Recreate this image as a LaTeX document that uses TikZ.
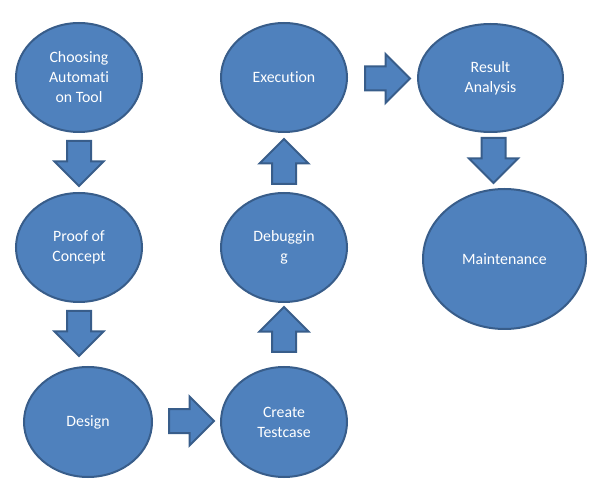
\documentclass[tikz,border=0pt]{standalone}
\usepackage{fontspec}
\setmainfont{Carlito}[Ligatures={NoCommon,NoContextual}]
\usetikzlibrary{shapes.geometric,shapes.arrows}

\definecolor{stepfill}{HTML}{4F81BD}
\definecolor{stepline}{HTML}{385D8A}

\begin{document}
\begin{tikzpicture}[x=1pt, y=-1pt,
    phase/.style={ellipse, draw=stepline, fill=stepfill, line width=2pt, inner sep=0pt,
        text=white, align=center, font=\fontsize{15.8}{20}\selectfont},
    blockarrow/.style={single arrow, draw=stepline, fill=stepfill, line width=2pt,
        inner xsep=0pt, inner ysep=11pt, minimum height=45pt, minimum width=47pt,
        single arrow head extend=12.5pt, anchor=tail}]
    \useasboundingbox (0,0) rectangle (608,494);

    % Phase nodes
    \path
    (79, 77.5) node[phase, minimum width=126pt, minimum height=109pt] (choose) {Choosing\\Automati\\on Tool}
    (79, 247.5) node[phase, minimum width=126pt, minimum height=109pt] (proof) {Proof of\\Concept}
    (88, 422) node[phase, minimum width=128pt, minimum height=110pt] (design) {Design}
    (284, 422) node[phase, minimum width=126pt, minimum height=110pt] (testcase) {Create\\Testcase}
    (284, 247.5) node[phase, minimum width=126pt, minimum height=109pt] (debug) {Debuggin\\g}
    (284, 77.5) node[phase, minimum width=126pt, minimum height=109pt] (exec) {Execution}
    (490.5, 78) node[phase, minimum width=145pt, minimum height=108pt] (result) {Result\\Analysis}
    (504.5, 259) node[phase, minimum width=163pt, minimum height=140pt] (maint) {Maintenance}
    ;

    % Block arrows (placed by their tails)
    \path
    (79, 140) node[blockarrow, rotate=-90] (choose-proof) {}
    (79, 310) node[blockarrow, rotate=-90] (proof-design) {}
    (168, 421) node[blockarrow] (design-testcase) {}
    (284, 353) node[blockarrow, rotate=90] (testcase-debug) {}
    (284, 185) node[blockarrow, rotate=90] (debug-exec) {}
    (364, 78.5) node[blockarrow] (exec-result) {}
    (493.5, 137) node[blockarrow, rotate=-90] (result-maint) {}
    ;

\end{tikzpicture}
\end{document}
